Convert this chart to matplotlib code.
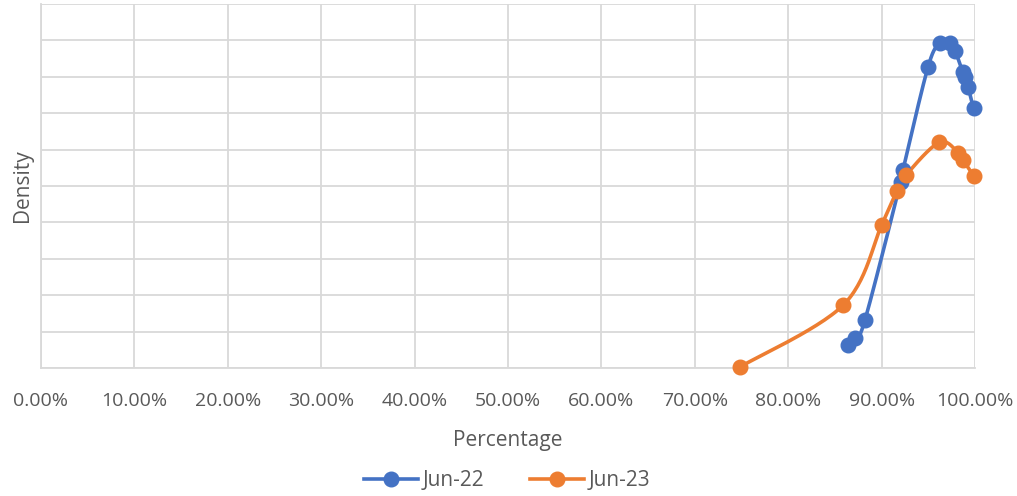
import numpy as np
import matplotlib.pyplot as plt
from matplotlib.ticker import FuncFormatter, MultipleLocator

# Percentage (x) and density (y) for each period
jun22_pct = [86.40, 87.15, 88.22, 92.04, 92.29, 94.97, 96.25, 97.32, 97.86, 98.68, 98.93, 99.25, 99.84]
jun22_density = [0.63, 0.82, 1.32, 5.11, 5.44, 8.27, 8.92, 8.93, 8.72, 8.14, 8.00, 7.73, 7.13]

jun23_pct = [74.84, 85.90, 90.01, 91.65, 92.61, 96.18, 98.21, 98.72, 99.89]
jun23_density = [0.03, 1.73, 3.93, 4.87, 5.30, 6.20, 5.91, 5.71, 5.27]

series_names = ["Jun-22", "Jun-23"]
series_colors = ["#4472C4", "#ED7D31"]
x_ticks = np.arange(0, 101, 10)


def smooth(xs, ys, n=30):
    """Catmull-Rom style smoothed path through the points (spreadsheet-like smoothing)."""
    p = np.column_stack([xs, ys]).astype(float)
    p = np.vstack([p[0], p, p[-1]])
    out = []
    for i in range(1, len(p) - 2):
        p0, p1, p2, p3 = p[i - 1], p[i], p[i + 1], p[i + 2]
        c1 = p1 + (p2 - p0) / 6.0
        c2 = p2 - (p3 - p1) / 6.0
        t = np.linspace(0, 1, n)[:, None]
        seg = ((1 - t) ** 3) * p1 + 3 * ((1 - t) ** 2) * t * c1 + 3 * (1 - t) * t ** 2 * c2 + t ** 3 * p2
        out.append(seg if i == 1 else seg[1:])
    path = np.vstack(out)
    return path[:, 0], path[:, 1]


plt.rcParams['font.family'] = ['Open Sans', 'DejaVu Sans']
fig = plt.figure(figsize=(10.17, 4.96), dpi=100)
ax = fig.add_axes([41 / 1017, 1 - 368 / 496, (975 - 41) / 1017, (368 - 4) / 496])

for xs, ys, name, col in zip([jun22_pct, jun23_pct], [jun22_density, jun23_density],
                             series_names, series_colors):
    sx, sy = smooth(xs, ys)
    ax.plot(sx, sy, color=col, lw=2.6, solid_capstyle='round', zorder=3, clip_on=False)
    ax.plot(xs, ys, 'o', color=col, ms=10.5, zorder=4, clip_on=False)
    ax.plot([], [], '-o', color=col, lw=2.6, ms=10.5, label=name)

ax.set_xlim(0, 100)
ax.set_ylim(0, 10)
ax.set_xticks(x_ticks)
ax.xaxis.set_major_formatter(FuncFormatter(lambda v, _: f"{v:.2f}%"))
ax.yaxis.set_major_locator(MultipleLocator(1))
ax.set_yticklabels([])
ax.tick_params(axis='both', length=0, colors='#595959', labelsize=14)
ax.tick_params(axis='x', pad=17)
ax.grid(True, color='#d9d9d9', lw=1.3)
ax.set_axisbelow(True)
for s in ['top', 'right']:
    ax.spines[s].set_visible(False)
for s in ['left', 'bottom']:
    ax.spines[s].set_color('#d9d9d9')
    ax.spines[s].set_linewidth(1.3)

ax.set_xlabel("Percentage", fontsize=15, color='#595959', labelpad=15)
ax.set_ylabel("Density", fontsize=15, color='#595959', labelpad=2)

fig.legend(loc='center', bbox_to_anchor=(507 / 1017, 1 - 481 / 496), ncol=2, frameon=False,
           fontsize=15, labelcolor='#595959', handlelength=2.6, columnspacing=2.2, handletextpad=0.2)

fig.savefig("out.png", dpi=100)
